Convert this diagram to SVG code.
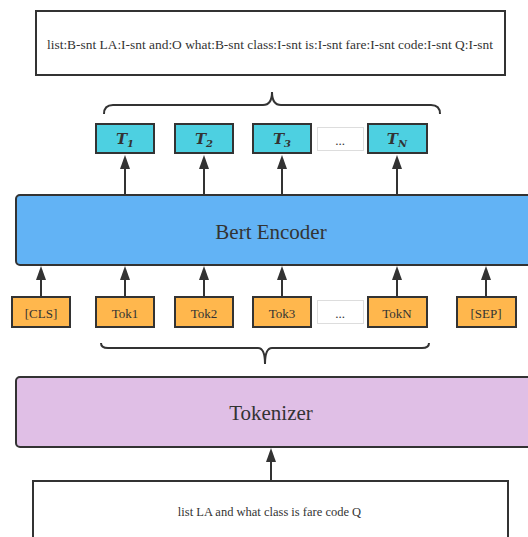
<svg xmlns="http://www.w3.org/2000/svg" width="528" height="537" viewBox="0 0 528 537">
<defs>
<marker id="ah" markerUnits="userSpaceOnUse" viewBox="0 0 14 10" markerWidth="14" markerHeight="10" refX="0" refY="5" orient="auto">
<path d="M0,0 L14,5 L0,10 z" fill="#333"/>
</marker>
<style>
.box{stroke:#333;stroke-width:2}
.tout{fill:#4dd0e1}
.tok{fill:#ffb74d}
.dots{fill:#fff;stroke:#ddd;stroke-width:1}
.txt{font-family:'Liberation Serif','Times New Roman',Times,'DejaVu Serif',serif;fill:#333;text-anchor:middle}
.math{font-family:'DejaVu Serif','Liberation Serif',serif;font-style:italic;font-weight:bold;fill:#333;text-anchor:middle}
.conn{stroke:#333;stroke-width:2;fill:none;marker-end:url(#ah)}
.brace{stroke:#333;stroke-width:2;fill:none}
</style>
</defs>
<rect width="528" height="537" fill="#fff"/>
<g id="output">
<rect class="box" x="36" y="11" width="469" height="64" fill="#fff"/>
<text class="txt" x="270" y="49" font-size="12.5" textLength="446" lengthAdjust="spacingAndGlyphs">list:B-snt LA:I-snt and:O what:B-snt class:I-snt is:I-snt fare:I-snt code:I-snt Q:I-snt</text>
</g>
<path class="brace" d="M104,114 Q104,105 113,105 L263,105 Q272,105 272,92 Q272,105 281,105 L431,105 Q440,105 440,114"/>
<g id="T1"><rect class="box tout" x="96" y="124" width="58" height="29"/><text class="math" x="125" y="144" font-size="15">T<tspan font-size="10" dy="3">1</tspan></text></g>
<g id="T2"><rect class="box tout" x="175" y="124" width="58" height="29"/><text class="math" x="204" y="144" font-size="15">T<tspan font-size="10" dy="3">2</tspan></text></g>
<g id="T3"><rect class="box tout" x="253" y="124" width="58" height="29"/><text class="math" x="282" y="144" font-size="15">T<tspan font-size="10" dy="3">3</tspan></text></g>
<g id="Tdots"><rect class="dots" x="317.5" y="127.5" width="46" height="23"/><text class="txt" x="340" y="145" font-size="13">...</text></g>
<g id="TN"><rect class="box tout" x="368" y="124" width="59" height="29"/><text class="math" x="397" y="144" font-size="15">T<tspan font-size="10" dy="3">N</tspan></text></g>
<g id="encoder">
<rect class="box" x="16" y="195" width="530" height="70" rx="4" fill="#62b3f5"/>
<text class="txt" x="271" y="239" font-size="21">Bert Encoder</text>
</g>
<g id="CLS"><rect class="box tok" x="12" y="297" width="58" height="30"/><text class="txt" x="41" y="318" font-size="13">[CLS]</text></g>
<g id="Tok1"><rect class="box tok" x="96" y="297" width="58" height="30"/><text class="txt" x="125" y="318" font-size="13">Tok1</text></g>
<g id="Tok2"><rect class="box tok" x="175" y="297" width="58" height="30"/><text class="txt" x="204" y="318" font-size="13">Tok2</text></g>
<g id="Tok3"><rect class="box tok" x="253" y="297" width="58" height="30"/><text class="txt" x="282" y="318" font-size="13">Tok3</text></g>
<g id="Tokdots"><rect class="dots" x="317.5" y="300.5" width="46" height="23"/><text class="txt" x="340" y="318" font-size="13">...</text></g>
<g id="TokN"><rect class="box tok" x="368" y="297" width="59" height="30"/><text class="txt" x="397" y="318" font-size="13">TokN</text></g>
<g id="SEP"><rect class="box tok" x="457" y="297" width="59" height="30"/><text class="txt" x="486" y="318" font-size="13">[SEP]</text></g>
<path class="brace" d="M101,343 Q101,348 108,348 L258,348 Q265,348 265,364 Q265,348 272,348 L422,348 Q429,348 429,343"/>
<g id="tokenizer">
<rect class="box" x="16" y="377" width="530" height="70" rx="4" fill="#e0bfe6"/>
<text class="txt" x="271" y="420" font-size="21">Tokenizer</text>
</g>
<g id="input">
<rect class="box" x="33" y="481" width="475" height="70" fill="#fff"/>
<text class="txt" x="269.5" y="516" font-size="12.5">list LA and what class is fare code Q</text>
</g>
<g id="connectors">
<path class="conn" d="M125,195 L125,169"/>
<path class="conn" d="M204,195 L204,169"/>
<path class="conn" d="M282,195 L282,169"/>
<path class="conn" d="M397,195 L397,169"/>
<path class="conn" d="M41,297 L41,280"/>
<path class="conn" d="M125,297 L125,280"/>
<path class="conn" d="M204,297 L204,280"/>
<path class="conn" d="M282,297 L282,280"/>
<path class="conn" d="M397,297 L397,280"/>
<path class="conn" d="M486,297 L486,280"/>
<path class="conn" d="M271,481 L271,462"/>
</g>
</svg>
